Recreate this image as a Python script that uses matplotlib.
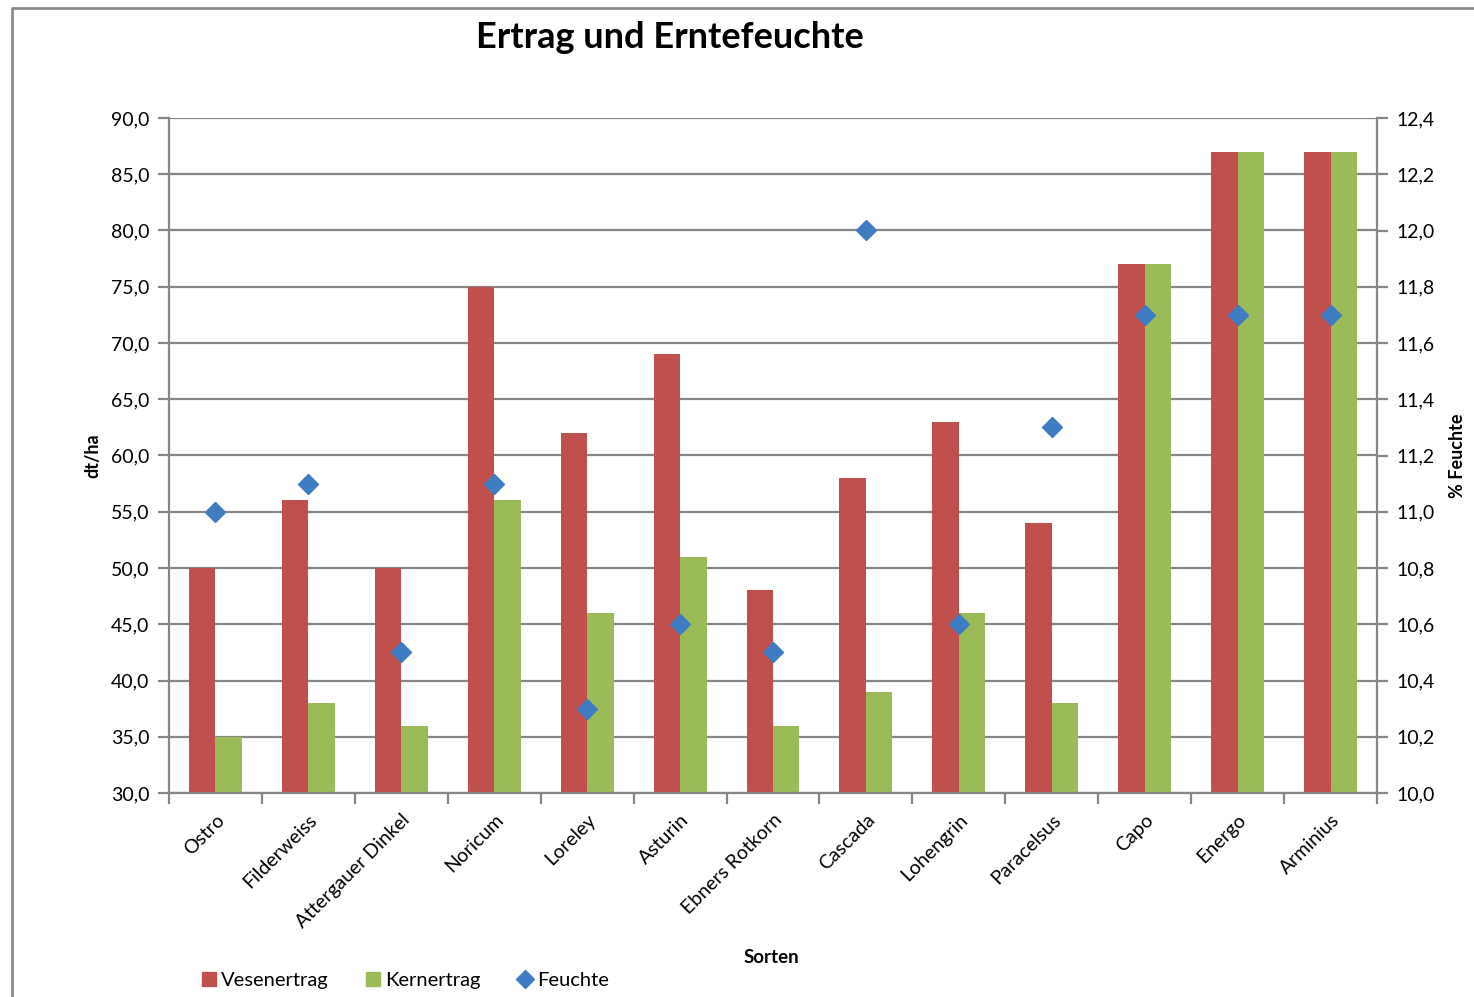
import matplotlib
matplotlib.use("Agg")
import matplotlib.pyplot as plt
import numpy as np
from matplotlib.lines import Line2D
from matplotlib.ticker import FuncFormatter

plt.rcParams['font.family'] = ['Lato', 'DejaVu Sans']

sorten = ["Ostro", "Filderweiss", "Attergauer Dinkel", "Noricum", "Loreley", "Asturin",
          "Ebners Rotkorn", "Cascada", "Lohengrin", "Paracelsus", "Capo", "Energo", "Arminius"]
vesenertrag = [50, 56, 50, 75, 62, 69, 48, 58, 63, 54, 77, 87, 87]
kernertrag = [35, 38, 36, 56, 46, 51, 36, 39, 46, 38, 77, 87, 87]
feuchte = [11.0, 11.1, 10.5, 11.1, 10.3, 10.6, 10.5, 12.0, 10.6, 11.3, 11.7, 11.7, 11.7]

RED = "#C0504D"
GREEN = "#9BBB59"
BLUE = "#3F7CC2"
GRID = "#868686"


def komma(v, pos):
    return f"{v:.1f}".replace(".", ",")


def main():
    fig = plt.figure(figsize=(14.74, 9.97), dpi=100)
    ax = fig.add_axes([169 / 1474, 204 / 997, 1208 / 1474, 675 / 997])

    x = np.arange(len(sorten))
    w = 0.285
    ax.bar(x - w / 2, vesenertrag, width=w, color=RED, label="Vesenertrag", zorder=2)
    ax.bar(x + w / 2, kernertrag, width=w, color=GREEN, label="Kernertrag", zorder=2)

    ax.set_xlim(-0.5, len(sorten) - 0.5)
    ax.set_ylim(30, 90)
    ax.set_yticks(np.arange(30, 90.1, 5))
    ax.yaxis.set_major_formatter(FuncFormatter(komma))
    ax.grid(axis="y", color=GRID, linewidth=1.6, zorder=0)
    ax.set_axisbelow(True)

    ax.set_xticks(x)
    ax.set_xticklabels(sorten, rotation=45, ha="right", rotation_mode="anchor", fontsize=14)
    ax.set_xticks(np.arange(-0.5, len(sorten)), minor=True)
    ax.tick_params(axis="x", which="major", length=0, pad=13)
    ax.tick_params(axis="x", which="minor", length=8, width=1.6, color=GRID)
    ax.tick_params(axis="y", length=8, width=1.6, color=GRID, labelsize=14, pad=6)

    for s in ["top", "right"]:
        ax.spines[s].set_visible(False)
    for s in ["left", "bottom"]:
        ax.spines[s].set_color(GRID)
        ax.spines[s].set_linewidth(1.6)

    ax2 = ax.twinx()
    ax2.plot(x, feuchte, linestyle="none", marker="D", markersize=10, color=BLUE,
             label="Feuchte", zorder=3)
    ax2.set_ylim(10.0, 12.4)
    ax2.set_yticks(np.arange(10.0, 12.41, 0.2))
    ax2.yaxis.set_major_formatter(FuncFormatter(komma))
    ax2.tick_params(axis="y", length=8, width=1.6, color=GRID, labelsize=14, pad=6)
    for s in ["top", "left", "bottom"]:
        ax2.spines[s].set_visible(False)
    ax2.spines["right"].set_color(GRID)
    ax2.spines["right"].set_linewidth(1.6)

    ax.set_ylabel("dt/ha", fontsize=13, fontweight="bold", labelpad=7)
    ax2.set_ylabel("% Feuchte", fontsize=13, fontweight="bold", labelpad=10)
    fig.text(771 / 1474, 1 - 957 / 997, "Sorten", fontsize=13.5, fontweight="bold",
             ha="center", va="center")
    fig.text(670 / 1474, 1 - 38 / 997, "Ertrag und Erntefeuchte", fontsize=26,
             fontweight="bold", ha="center", va="center")

    handles = [
        Line2D([], [], linestyle="none", marker="s", markersize=10, color=RED),
        Line2D([], [], linestyle="none", marker="s", markersize=10, color=GREEN),
        Line2D([], [], linestyle="none", marker="D", markersize=9, color=BLUE),
    ]
    fig.legend(handles, ["Vesenertrag", "Kernertrag", "Feuchte"], loc="center left",
               bbox_to_anchor=(181 / 1474, 1 - 980 / 997), ncol=3, frameon=False,
               fontsize=14.5, handletextpad=0.1, columnspacing=1.7, handlelength=1.0)

    # chart frame
    fig.add_artist(Line2D([12 / 1474, 12 / 1474, 1.0], [0.0, 1 - 8 / 997, 1 - 8 / 997],
                          color="#8C8C8C", linewidth=2, transform=fig.transFigure))

    fig.savefig("out.png", dpi=100)


if __name__ == "__main__":
    main()
